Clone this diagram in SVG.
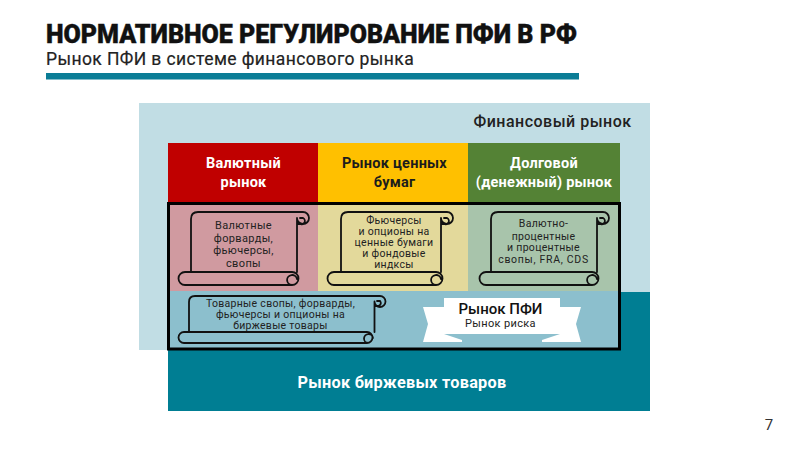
<svg xmlns="http://www.w3.org/2000/svg" width="800" height="450" viewBox="0 0 800 450">
<defs>
<style>
text{font-family:Roboto,"Liberation Sans",sans-serif;text-anchor:middle}
.h{font-size:14.500px;font-weight:700;fill:#fff;letter-spacing:.25px}
.s{font-size:11px;fill:#222;letter-spacing:.35px}
.t{font-size:10.500px;fill:#222;letter-spacing:.3px}
.sc{fill:none;stroke:#111;stroke-width:1.8;stroke-linejoin:round;stroke-linecap:round}
</style>
</defs>
<rect width="800" height="450" fill="#fff"/>
<g id="header">
<text x="46" y="43" style="text-anchor:start;font-size:25px;font-weight:900;fill:#111;stroke:#111;stroke-width:.4">НОРМАТИВНОЕ РЕГУЛИРОВАНИЕ ПФИ В РФ</text>
<text x="46" y="65" style="text-anchor:start;font-size:17.500px;font-weight:400;fill:#222;stroke:#222;stroke-width:.2;letter-spacing:.4px">Рынок ПФИ в системе финансового рынка</text>
<rect x="46" y="73" width="533" height="6.500" fill="#0b7d96"/>
<text x="769" y="430" style="font-size:15px;fill:#333">7</text>
</g>
<g id="backgrounds">
<rect x="139" y="103" width="511" height="247" fill="#c1dde4"/>
<rect x="168" y="350" width="482" height="61" fill="#007e93"/>
<rect x="620" y="292" width="30" height="58" fill="#007e93"/>
</g>
<g id="financial-market"><text x="552.500" y="127" style="font-size:16px;font-weight:500;fill:#222;letter-spacing:.5px">Финансовый рынок</text></g>
<g id="currency">
<rect x="168" y="143" width="150" height="60" fill="#c00000"/>
<rect x="168" y="203" width="150" height="88" fill="#d09aa0"/>
<text class="h" x="243.500" y="168">Валютный</text><text class="h" x="243.500" y="187">рынок</text>
</g>
<g id="securities">
<rect x="318" y="143" width="150" height="60" fill="#ffc000"/>
<rect x="318" y="203" width="150" height="88" fill="#e3d99b"/>
<text class="h" x="394.500" y="168" style="fill:#1c1c1c">Рынок ценных</text><text class="h" x="394.500" y="187" style="fill:#1c1c1c">бумаг</text>
</g>
<g id="debt">
<rect x="468" y="143" width="152" height="60" fill="#548235"/>
<rect x="468" y="203" width="152" height="88" fill="#a8c4ab"/>
<text class="h" x="544" y="168">Долговой</text><text class="h" x="544" y="187">(денежный) рынок</text>
</g>
<g id="commodity-band"><rect x="168" y="291" width="452" height="58" fill="#8cbfcd"/></g>
<g id="frame"><rect x="168.500" y="203.500" width="451" height="145.500" fill="none" stroke="#000" stroke-width="3"/></g>
<g id="scroll-1">
<path class="sc" d="M191 272V219Q191 212 198 212H303a6 6 0 1 1-6 6V272M185 272H292a6.500 6.500 0 0 1 0 13H185a6.500 6.500 0 0 1 0-13ZM297 279a5 5 0 1 0-5 6M303 218h-3M297 224h3a3 3 0 0 0 3-6"/>
<text class="s" x="243.500" y="229">Валютные</text><text class="s" x="243.500" y="242">форварды,</text><text class="s" x="243.500" y="254">фьючерсы,</text><text class="s" x="243.500" y="267">свопы</text>
</g>
<g id="scroll-2">
<path class="sc" d="M341 272V219Q341 212 348 212H447a6 6 0 1 1-6 6V272M334 272H436a6.500 6.500 0 0 1 0 13H334a6.500 6.500 0 0 1 0-13ZM441 279a5 5 0 1 0-5 6M447 218h-3M441 224h3a3 3 0 0 0 3-6"/>
<text class="t" x="394" y="224">Фьючерсы</text><text class="t" x="394" y="235">и опционы на</text><text class="t" x="394" y="246">ценные бумаги</text><text class="t" x="394" y="257">и фондовые</text><text class="t" x="394" y="268">индксы</text>
</g>
<g id="scroll-3">
<path class="sc" d="M491 272V219Q491 212 498 212H603a6 6 0 1 1-6 6V272M486 272H592a6.500 6.500 0 0 1 0 13H486a6.500 6.500 0 0 1 0-13ZM597 279a5 5 0 1 0-5 6M603 218h-3M597 224h3a3 3 0 0 0 3-6"/>
<text class="t" x="543.500" y="227">Валютно-</text><text class="t" x="543.500" y="240">процентные</text><text class="t" x="543.500" y="251">и процентные</text><text class="t" x="543.500" y="263" style="letter-spacing:.7px">свопы, FRA, CDS</text>
</g>
<g id="scroll-4">
<path class="sc" d="M189 332V302Q189 296 195 296H380a5.500 5.500 0 1 1-5.500 5.500V332M184 332H367a5.500 5.500 0 0 1 0 11H184a5.500 5.500 0 0 1 0-11ZM373 338a4.500 4.500 0 1 0-5 5M380 301h-3M375 306h3a3 3 0 0 0 2-5"/>
<text class="t" x="280.500" y="307">Товарные свопы, форварды,</text><text class="t" x="280.500" y="318">фьючерсы и опционы на</text><text class="t" x="280.500" y="329">биржевые товары</text>
</g>
<g id="ribbon">
<path d="M423 307H462V342H423L428 324Z" fill="#fff"/>
<path d="M581 307H542V342H581L576 324Z" fill="#fff"/>
<path d="M444 334L462 340V334ZM560 334L542 340V334Z" fill="#8cbfcd"/>
<rect x="444" y="298" width="116" height="36" fill="#fff"/>
<text x="500.500" y="314" style="font-size:15px;font-weight:500;fill:#111">Рынок ПФИ</text>
<text x="500.500" y="327" style="font-size:11px;fill:#222;letter-spacing:.35px">Рынок риска</text>
</g>
<g id="commodity-market"><text x="402" y="388" style="font-size:16.300px;font-weight:700;fill:#fff;letter-spacing:.25px">Рынок биржевых товаров</text></g>
</svg>
